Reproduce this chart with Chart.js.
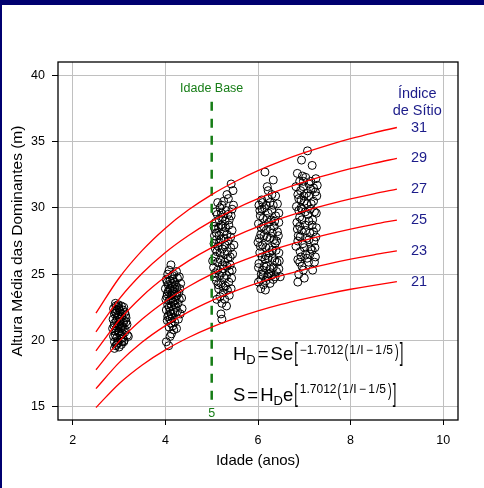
<!DOCTYPE html>
<html>
<head>
<meta charset="utf-8">
<script src="https://cdn.jsdelivr.net/npm/chart.js@4.4.0/dist/chart.umd.min.js"></script>
<style>
html, body { margin: 0; padding: 0; background: #fff; }
</style>
</head>
<body>
<canvas id="chart" width="484" height="488"></canvas>
<script>
// site index curves (height at each age)
const siteIndices = [21, 23, 25, 27, 29, 31];
const curveAges = [2.5, 3, 3.5, 4, 4.5, 5, 5.5, 6, 6.5, 7, 7.5, 8, 8.5, 9];
const h21 = [14.94, 16.74, 18.15, 19.29, 20.22, 21.00, 21.66, 22.23, 22.72, 23.14, 23.52, 23.86, 24.16, 24.43];
const h23 = [16.37, 18.33, 19.88, 21.12, 22.15, 23.00, 23.72, 24.34, 24.88, 25.35, 25.76, 26.13, 26.46, 26.75];
const h25 = [17.79, 19.93, 21.61, 22.96, 24.07, 25.00, 25.79, 26.46, 27.04, 27.55, 28.00, 28.40, 28.76, 29.08];
const h27 = [19.21, 21.52, 23.34, 24.80, 26.00, 27.00, 27.85, 28.58, 29.21, 29.76, 30.24, 30.67, 31.06, 31.41];
const h29 = [20.64, 23.12, 25.07, 26.64, 27.92, 29.00, 29.91, 30.69, 31.37, 31.96, 32.48, 32.95, 33.36, 33.73];
const h31 = [22.06, 24.71, 26.79, 28.47, 29.85, 31.00, 31.97, 32.81, 33.53, 34.16, 34.72, 35.22, 35.66, 36.06];
const curves = [h21, h23, h25, h27, h29, h31];

// observed dominant heights [age, height]
const obsAge3 = [[2.92,22.8],[2.98,22.7],[3.05,22.6],[3.1,22.5],[2.88,22.4],[2.95,22.3],[3.02,22.2],[3.12,22.1],[2.9,22.0],[2.97,21.9],[3.06,21.8],[3.15,21.7],[2.87,21.6],[2.94,21.5],[3.01,21.4],[3.09,21.3],[3.17,21.2],[2.89,21.1],[2.96,21.0],[3.04,20.9],[3.13,20.8],[2.91,20.7],[2.99,20.6],[3.07,20.5],[3.18,20.4],[2.88,20.3],[2.95,20.2],[3.03,20.1],[3.11,20.0],[2.9,19.9],[2.97,19.8],[3.05,19.7],[2.93,19.6],[3.0,19.5],[2.9,19.4],[3.08,21.0],[3.14,21.9],[2.93,22.1],[3.0,21.2],[2.86,20.9],[3.2,20.3],[3.1,19.9],[2.99,22.5],[3.03,20.4],
    [2.93,22.6],[3.0,22.4],[3.08,22.3],[2.91,22.2],[3.05,22.0],[2.96,21.7],[3.03,21.6],[3.11,21.5],[2.9,21.3],[2.98,21.1],[3.06,21.1],[3.12,20.6],[2.94,20.8],[3.0,20.7],[2.92,20.4],[3.08,20.2],[2.98,20.0],[3.06,19.9],[2.95,19.7],[3.15,21.4]];
const obsAge4 = [[4.12,25.7],[4.24,25.2],[4.05,25.0],[4.15,24.9],[4.3,24.8],[4.02,24.6],[4.1,24.5],[4.2,24.4],[4.33,24.3],[4.06,24.2],[4.14,24.1],[4.25,24.0],[4.0,23.9],[4.09,23.8],[4.18,23.7],[4.29,23.6],[4.04,23.5],[4.12,23.4],[4.22,23.3],[4.35,23.2],[4.01,23.1],[4.08,23.0],[4.17,22.9],[4.27,22.8],[4.05,22.7],[4.13,22.6],[4.23,22.5],[4.36,22.4],[4.02,22.3],[4.1,22.2],[4.2,22.1],[4.07,21.9],[4.15,21.7],[4.28,21.6],[4.04,21.5],[4.12,21.3],[4.08,21.0],[4.18,20.8],[4.13,20.5],[4.1,20.3],[4.02,19.9],[4.07,19.6],[4.32,22.0],[4.16,24.6],[4.21,23.0],
    [4.08,25.3],[4.18,25.0],[4.26,24.7],[4.04,24.4],[4.13,24.3],[4.22,24.2],[4.1,23.9],[4.2,23.9],[4.31,23.9],[4.06,23.7],[4.15,23.5],[4.25,23.4],[4.03,23.3],[4.11,23.1],[4.19,22.7],[4.3,23.1],[4.08,22.5],[4.17,22.3],[4.26,22.2],[4.12,22.0],[4.05,21.8],[4.2,21.4],[4.1,21.6],[4.16,21.1],[4.24,20.9]];
const obsAge5 = [[5.42,31.8],[5.46,31.3],[5.33,31.0],[5.26,30.5],[5.47,30.2],[5.18,30.0],[5.31,29.8],[5.12,29.5],[5.24,29.3],[5.38,29.1],[5.08,28.9],[5.2,28.7],[5.3,28.5],[5.44,28.3],[5.1,28.1],[5.16,27.9],[5.27,27.7],[5.36,27.5],[5.05,27.3],[5.14,27.1],[5.23,26.9],[5.34,26.7],[5.45,26.5],[5.08,26.3],[5.19,26.1],[5.28,25.9],[5.4,25.7],[5.04,25.5],[5.13,25.3],[5.22,25.1],[5.32,24.9],[5.43,24.7],[5.1,24.5],[5.2,24.3],[5.3,24.1],[5.15,23.9],[5.25,23.6],[5.38,23.4],[5.11,23.1],[5.22,22.8],[5.32,22.6],[5.2,22.0],[5.22,21.6],[5.07,28.4],[5.26,28.2],[5.41,27.8],[5.11,26.7],[5.35,26.2],[5.25,25.4],[5.06,24.8],[5.37,24.4],[5.17,27.4],[5.29,29.0],[5.13,30.4],[5.38,25.2],[5.02,26.0],[5.48,27.2],
    [5.09,29.7],[5.21,29.6],[5.35,29.5],[5.16,29.1],[5.42,29.4],[5.05,28.6],[5.15,28.5],[5.24,28.6],[5.37,28.7],[5.33,28.0],[5.2,27.6],[5.1,27.6],[5.29,27.2],[5.41,27.0],[5.08,26.9],[5.18,26.6],[5.28,26.5],[5.4,26.3],[5.13,25.9],[5.23,25.7],[5.33,25.6],[5.44,25.3],[5.08,25.1],[5.17,24.9],[5.27,24.7],[5.14,24.2],[5.25,24.0],[5.34,23.8],[5.18,23.3],[5.28,23.1],[5.42,23.9],[5.06,27.9],[5.44,29.9],[5.22,30.2],[5.36,30.7]];
const obsAge6 = [[6.15,32.7],[6.33,32.1],[6.22,31.3],[6.38,30.9],[6.08,30.6],[6.26,30.4],[6.02,30.2],[6.14,30.0],[6.3,29.8],[6.45,29.6],[6.05,29.4],[6.19,29.2],[6.36,29.0],[6.01,28.8],[6.12,28.6],[6.27,28.4],[6.42,28.2],[6.06,28.0],[6.2,27.8],[6.34,27.6],[6.0,27.4],[6.1,27.2],[6.24,27.0],[6.39,26.8],[6.04,26.6],[6.17,26.4],[6.31,26.2],[6.46,26.0],[6.02,25.8],[6.13,25.6],[6.26,25.4],[6.4,25.2],[6.07,25.0],[6.2,24.8],[6.33,24.6],[6.01,24.4],[6.12,24.2],[6.06,23.9],[6.16,23.8],[6.29,24.9],[6.09,29.9],[6.23,28.9],[6.37,27.3],[6.15,26.1],[6.28,25.1],[6.44,27.9],[6.03,27.7],[6.21,30.7],[6.35,28.6],[6.11,24.9],[6.48,24.8],[6.25,26.6],[6.41,25.9],
    [6.1,30.4],[6.18,30.2],[6.33,30.2],[6.42,30.3],[6.04,29.8],[6.22,29.6],[6.38,29.4],[6.11,29.2],[6.29,29.1],[6.45,28.9],[6.07,28.5],[6.18,28.3],[6.31,28.1],[6.13,27.9],[6.26,27.7],[6.4,27.5],[6.05,27.1],[6.17,27.0],[6.31,26.8],[6.45,26.6],[6.09,26.3],[6.22,26.2],[6.36,26.0],[6.01,25.5],[6.19,25.6],[6.33,25.5],[6.45,25.4],[6.1,25.3],[6.23,25.0],[6.37,24.8],[6.06,24.6],[6.17,24.5],[6.26,24.3],[6.2,31.6],[6.3,31.0]];
const obsAge7 = [[7.07,34.3],[6.94,33.6],[7.17,33.2],[6.85,32.6],[7.25,32.2],[6.98,32.0],[7.1,31.8],[6.82,31.6],[7.2,31.5],[6.92,31.3],[7.05,31.1],[7.27,30.9],[6.88,30.7],[7.0,30.5],[7.15,30.3],[6.83,30.1],[6.95,29.9],[7.22,29.7],[7.08,29.5],[6.9,29.3],[7.18,29.1],[6.84,28.9],[7.02,28.7],[7.26,28.5],[6.94,28.3],[7.12,28.1],[6.87,27.9],[7.05,27.7],[7.21,27.5],[6.97,27.3],[6.82,27.1],[7.14,26.9],[6.91,26.7],[7.03,26.5],[7.24,26.3],[6.86,26.1],[7.09,25.9],[6.95,25.6],[7.18,25.3],[6.88,25.0],[7.0,24.7],[6.86,24.4],[7.28,31.7],[6.99,30.9],[7.13,29.9],[6.9,28.6],[7.2,28.2],[7.06,26.2],[6.98,31.6],[7.23,27.0],[6.93,30.0],
    [6.9,32.0],[7.03,32.3],[7.14,32.0],[7.24,31.2],[6.86,31.0],[7.1,30.9],[6.93,30.6],[7.2,30.5],[7.06,30.3],[6.88,29.8],[7.02,29.7],[7.26,29.6],[6.95,29.1],[7.1,29.0],[6.85,28.4],[7.03,28.3],[7.17,28.7],[6.91,27.8],[7.1,27.6],[7.25,27.8],[6.86,27.5],[7.0,27.0],[7.17,26.8],[6.93,26.3],[7.12,26.5],[7.22,25.9],[6.98,25.3],[6.9,25.9],[7.14,31.4],[6.96,32.4]];
const observations = [].concat(obsAge3, obsAge4, obsAge5, obsAge6, obsAge7);

const baseAge = 5;
const baseLine = [38.0, 15.0];
const xTicks = [2, 4, 6, 8, 10];
const yTicks = [15, 20, 25, 30, 35, 40];

const FONT = "'Liberation Sans', Arial, Helvetica, sans-serif";
const NAVY = '#1c1c8a';
const GREEN = '#167d16';

const curveSets = curves.map(h => ({
    type: 'line',
    data: curveAges.map((a, i) => ({ x: a, y: h[i] })),
    borderColor: '#ff0000',
    borderWidth: 1.3,
    pointRadius: 0,
    cubicInterpolationMode: 'monotone',
    order: 0
}));

const frame = {
    id: 'frame',
    beforeDraw(chart) {
        const ctx = chart.ctx;
        ctx.save();
        ctx.fillStyle = '#fff';
        ctx.fillRect(0, 0, chart.width, chart.height);
        ctx.fillStyle = '#000070';
        ctx.fillRect(0, 0, chart.width, 5);
        ctx.fillRect(0, 0, 2, chart.height);
        ctx.restore();
    },
    afterDatasetsDraw(chart) {
        const { ctx, chartArea: a, scales: { x, y } } = chart;
        ctx.save();
        ctx.strokeStyle = '#000';
        ctx.lineWidth = 1.3;
        ctx.strokeRect(a.left, a.top, a.right - a.left, a.bottom - a.top);

        ctx.textAlign = 'center';
        ctx.textBaseline = 'middle';
        // base age labels
        ctx.fillStyle = GREEN;
        ctx.font = '12.5px ' + FONT;
        ctx.fillText('Idade Base', x.getPixelForValue(baseAge), y.getPixelForValue(39.0));
        ctx.fillText(String(baseAge), x.getPixelForValue(baseAge), y.getPixelForValue(14.5));

        // site index labels
        ctx.fillStyle = NAVY;
        ctx.font = '14.5px ' + FONT;
        ctx.fillText('Índice', x.getPixelForValue(9.44), y.getPixelForValue(38.62));
        ctx.fillText('de Sítio', x.getPixelForValue(9.44), y.getPixelForValue(37.28));
        siteIndices.forEach((s, i) => {
            const h = curves[i];
            ctx.fillText(String(s), x.getPixelForValue(9.48), y.getPixelForValue(h[h.length - 1]));
        });

        // formulas
        ctx.fillStyle = '#000';
        ctx.textAlign = 'left';
        ctx.textBaseline = 'alphabetic';
        const x0 = x.getPixelForValue(5.46);
        drawFormula(ctx, x0, y.getPixelForValue(18.52), true);
        drawFormula(ctx, x0, y.getPixelForValue(15.43), false);
        ctx.restore();
    }
};

function put(ctx, t, size, px, py, sy) {
    ctx.font = size + 'px ' + FONT;
    const w = ctx.measureText(t).width;
    if (sy) {
        ctx.save();
        ctx.translate(px, py);
        ctx.scale(1, sy);
        ctx.fillText(t, 0, 0);
        ctx.restore();
    } else {
        ctx.fillText(t, px, py);
    }
    return px + w;
}

function drawFormula(ctx, px, base, first) {
    const big = 18.5, sub = 13, ex = 12;
    const eb = base - (first ? 6 : 8);
    if (first) {
        px = put(ctx, 'H', big, px, base);
        px = put(ctx, 'D', sub, px, base + 4);
        px = put(ctx, '=', big, px + 2, base);
        px = put(ctx, 'Se', big, px + 2, base);
    } else {
        px = put(ctx, 'S', big, px, base);
        px = put(ctx, '=', big, px + 2, base);
        px = put(ctx, 'H', big, px + 2, base);
        px = put(ctx, 'D', sub, px, base + 4);
        px = put(ctx, 'e', big, px, base);
    }
    px = put(ctx, '[', 13, px + 1, base + 1, 2.0);
    px = put(ctx, first ? '\u22121.7012' : '1.7012', ex, px + 2, eb);
    px = put(ctx, '(', 11, px + 1, eb + 2.5, 1.6);
    px = put(ctx, '1', ex, px + 1, eb);
    px = put(ctx, '/I\u2009\u2212\u20091', ex, px + 1, eb);
    px = put(ctx, '/5', ex, px + 1, eb);
    px = put(ctx, ')', 11, px + 2, eb + 2.5, 1.6);
    put(ctx, ']', 13, px + 1, base + 1, 2.0);
}

new Chart(document.getElementById('chart'), {
    data: {
        datasets: [
            ...curveSets,
            {
                type: 'line',
                data: baseLine.map(v => ({ x: baseAge, y: v })),
                borderColor: GREEN,
                borderWidth: 2.5,
                borderDash: [9, 8],
                pointRadius: 0,
                order: 0
            },
            {
                type: 'scatter',
                data: observations.map(p => ({ x: p[0], y: p[1] })),
                borderColor: '#000',
                backgroundColor: 'rgba(0,0,0,0)',
                borderWidth: 1,
                pointRadius: 4,
                order: 1
            }
        ]
    },
    options: {
        responsive: false,
        animation: false,
        devicePixelRatio: 1,
        layout: { padding: { left: 0, top: 62, right: 26, bottom: 0 } },
        plugins: { legend: { display: false }, tooltip: { enabled: false } },
        scales: {
            x: {
                type: 'linear',
                min: 1.68,
                max: 10.32,
                afterBuildTicks: axis => { axis.ticks = xTicks.map(v => ({ value: v })); },
                afterFit: axis => { axis.height = 68; },
                grid: { color: '#c0c0c0', lineWidth: 1, tickColor: '#000', tickLength: 5 },
                border: { display: false },
                ticks: { color: '#000', padding: 8, maxRotation: 0, font: { family: FONT, size: 12.5 } },
                title: {
                    display: true,
                    text: 'Idade (anos)',
                    color: '#000',
                    font: { family: FONT, size: 15 },
                    padding: { top: 0, bottom: 18 }
                }
            },
            y: {
                type: 'linear',
                min: 14,
                max: 41,
                afterBuildTicks: axis => { axis.ticks = yTicks.map(v => ({ value: v })); },
                afterFit: axis => { axis.width = 58; },
                grid: { color: '#c0c0c0', lineWidth: 1, tickColor: '#000', tickLength: 6 },
                border: { display: false },
                ticks: { color: '#000', padding: 7, font: { family: FONT, size: 12.5 } },
                title: {
                    display: true,
                    text: 'Altura Média das Dominantes (m)',
                    color: '#000',
                    font: { family: FONT, size: 15.5 },
                    padding: { top: 8, bottom: 0 }
                }
            }
        }
    },
    plugins: [frame]
});
</script>
</body>
</html>
